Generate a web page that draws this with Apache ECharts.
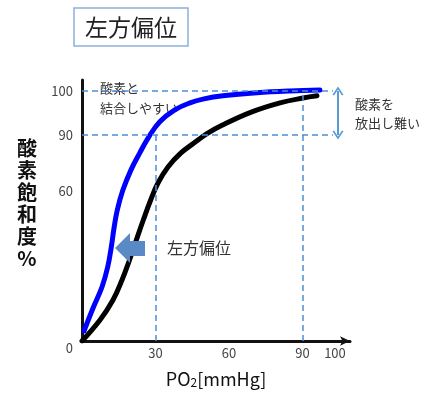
<!DOCTYPE html>
<html>
<head>
<meta charset="utf-8">
<script src="https://cdn.jsdelivr.net/npm/echarts@6/dist/echarts.min.js"></script>
<style>html,body{margin:0;padding:0;background:#fff;}#c{width:429px;height:396px;}</style>
</head>
<body>
<div id="c"></div>
<script>
// ---- data ----
const po2Ticks = [30, 60, 90, 100];
const satTicks = [0, 60, 90, 100];
// schematic (non-linear) saturation axis: true values -> axis positions
const satBreaks = [0, 60, 90, 100];
const satAxisPos = [0, 60, 82.4, 100];

// left-shifted curve (blue)
const blueX = [0.82, 4.69, 8.16, 10.49, 11.96, 13.14, 14.41, 16.69, 19.96, 23.59, 27.22, 31.76, 37.88, 44.08, 49.80, 57.55, 71.43, 84.90, 97.14];
const blueY = [4.0, 13.6, 21.6, 29.6, 37.6, 45.6, 52.4, 60.5, 71.2, 80.4, 88.9, 93.0, 95.7, 97.3, 98.2, 98.9, 99.6, 100.0, 100.2];
// normal curve (black)
const blackX = [0, 7.35, 12.65, 16.33, 19.39, 22.04, 25.02, 28.04, 31.02, 35.10, 40.41, 45.71, 51.02, 57.14, 68.57, 80.82, 90.20, 95.92];
const blackY = [0, 8.4, 16.4, 24.4, 32.4, 40.0, 48.4, 56.4, 64.3, 72.9, 80.4, 85.7, 90.3, 92.2, 95.1, 97.3, 98.4, 98.9];

const refSat = [100, 90];     // horizontal guides
const refPo2 = [30, 90];      // vertical guides
const guideEnd = 102.4;       // PO2 where horizontal guides stop
const arrowPo2 = 104.5;       // PO2 of the double arrow
const shiftArrow = [19.6, 37.2]; // PO2, saturation of the left-shift arrow

function toAxis(s) {
  for (let i = 1; i < satBreaks.length; i++) {
    if (s <= satBreaks[i] || i === satBreaks.length - 1) {
      const a = satBreaks[i-1], b = satBreaks[i];
      return satAxisPos[i-1] + (s - a) * (satAxisPos[i] - satAxisPos[i-1]) / (b - a);
    }
  }
}
function fromAxis(v) {
  for (let i = 1; i < satAxisPos.length; i++) {
    if (v <= satAxisPos[i] + 1e-6 || i === satAxisPos.length - 1) {
      const a = satAxisPos[i-1], b = satAxisPos[i];
      return satBreaks[i-1] + (v - a) * (satBreaks[i] - satBreaks[i-1]) / (b - a);
    }
  }
}

const FONT = '"Noto Sans CJK JP", "Noto Sans", sans-serif';
const guideColor = '#4C8FD6';
const chevron = 'path://M0,9 L5,0 L10,9 L8.6,9.8 L5,3.2 L1.4,9.8 Z';
const blockArrow = 'path://M0,15 L15,0 L15,8 L30,8 L30,23 L15,23 L15,30 Z';

const chart = echarts.init(document.getElementById('c'));
chart.setOption({
  animation: false,
  backgroundColor: '#fff',
  grid: { left: 82, right: 79, top: 80, bottom: 55, containLabel: false },
  xAxis: {
    type: 'value', min: 0, max: 109.4,
    axisLine: { show: true, onZero: false, symbol: ['none', 'arrow'], symbolSize: [7, 10],
      lineStyle: { color: '#111', width: 3 } },
    axisTick: { show: false },
    splitLine: { show: false },
    axisLabel: {
      customValues: po2Ticks, margin: 6, color: '#444', fontSize: 13, fontFamily: FONT,
      formatter: v => v === 100 ? '{h|100}' : String(v),
      rich: { h: { padding: [0, 0, 0, 16], fontSize: 13, color: '#444', fontFamily: FONT } }
    },
    name: '{a|PO}{s|2}{a|[mmHg]}',
    nameLocation: 'middle', nameGap: 27,
    nameTextStyle: {
      rich: {
        a: { fontSize: 18, color: '#111', fontFamily: FONT, lineHeight: 22 },
        s: { fontSize: 12, color: '#111', fontFamily: FONT, lineHeight: 22, padding: [6, 0, 0, 0] }
      }
    }
  },
  yAxis: {
    type: 'value', min: 0, max: 104.4,
    axisLine: { show: true, onZero: false, lineStyle: { color: '#111', width: 3 } },
    axisTick: { show: false },
    splitLine: { show: false },
    axisLabel: {
      customValues: satTicks.map(toAxis), margin: 9, color: '#444', fontSize: 13, fontFamily: FONT,
      formatter: v => { const r = Math.round(fromAxis(v)); return r === 0 ? '{z|0}' : String(r); },
      rich: { z: { padding: [14, 0, 0, 0], fontSize: 13, color: '#444', fontFamily: FONT } }
    }
  },
  series: [
    {
      name: 'normal', type: 'line', smooth: 0.4, showSymbol: false, silent: true,
      data: blackX.map((x, i) => [x, toAxis(blackY[i])]),
      lineStyle: { color: '#000', width: 5, cap: 'round' },
      z: 2,
      markLine: {
        silent: true, symbol: 'none', label: { show: false }, z: 5,
        lineStyle: { color: guideColor, width: 1.5, type: [6, 4] },
        data: [
          [{ coord: [0, toAxis(refSat[0])] }, { coord: [guideEnd, toAxis(refSat[0])] }],
          [{ coord: [0, toAxis(refSat[1])] }, { coord: [guideEnd, toAxis(refSat[1])] }],
          [{ coord: [refPo2[0], 0] }, { coord: [refPo2[0], toAxis(refSat[1])] }],
          [{ coord: [refPo2[1], 0] }, { coord: [refPo2[1], toAxis(refSat[0])] }]
        ]
      }
    },
    {
      name: 'left', type: 'line', smooth: 0.4, showSymbol: false, silent: true,
      data: blueX.map((x, i) => [x, toAxis(blueY[i])]),
      lineStyle: { color: '#0000FF', width: 5, cap: 'round' },
      z: 3,
      markLine: {
        silent: true, symbol: [chevron, chevron], symbolSize: [11, 9], label: { show: false },
        lineStyle: { color: '#5B9BD5', width: 2, type: 'solid' },
        itemStyle: { color: '#5B9BD5' },
        data: [[{ coord: [arrowPo2, toAxis(refSat[0])] }, { coord: [arrowPo2, toAxis(refSat[1])] }]]
      },
      markPoint: {
        silent: true, symbol: blockArrow, symbolSize: [30, 30], label: { show: false },
        itemStyle: { color: '#5A8AC6' },
        data: [{ coord: [shiftArrow[0], toAxis(shiftArrow[1])] }]
      }
    }
  ],
  graphic: [
    { type: 'rect', shape: { x: 74, y: 8, width: 114, height: 38 },
      style: { fill: '#fff', stroke: '#8CB0DC', lineWidth: 1.5 } },
    { type: 'text', x: 131, y: 27,
      style: { text: '左方偏位', fontSize: 23, fontFamily: FONT, fill: '#222', align: 'center', verticalAlign: 'middle' } },
    { type: 'text', x: 27, y: 137,
      style: { text: '酸\n素\n飽\n和\n度\n%', fontSize: 20, lineHeight: 22, fontWeight: 'bold', fontFamily: FONT, fill: '#111', align: 'center', verticalAlign: 'top' } },
    { type: 'text', x: 100, y: 78,
      style: { text: '酸素と\n結合しやすい', fontSize: 13, lineHeight: 20, fontFamily: FONT, fill: '#333' } },
    { type: 'text', x: 355, y: 95,
      style: { text: '酸素を\n放出し難い', fontSize: 13, lineHeight: 19, fontFamily: FONT, fill: '#333' } },
    { type: 'text', x: 167, y: 248,
      style: { text: '左方偏位', fontSize: 16, fontFamily: FONT, fill: '#333', verticalAlign: 'middle' } }
  ]
});
</script>
</body>
</html>
